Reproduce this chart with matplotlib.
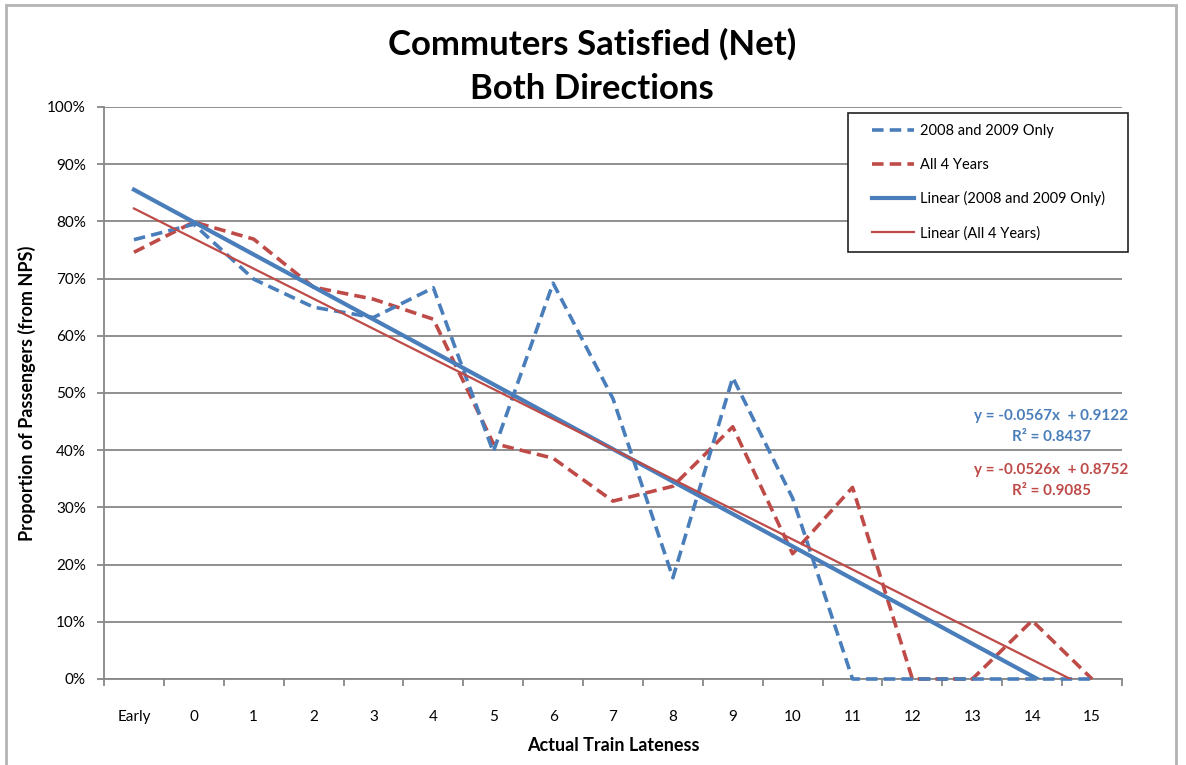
import matplotlib
matplotlib.use("Agg")
import matplotlib.pyplot as plt
from matplotlib.patches import Rectangle
from matplotlib.ticker import FixedLocator, PercentFormatter

plt.rcParams['font.family'] = ['Lato', 'DejaVu Sans']

# Lateness categories (minutes late)
categories = ["Early", "0", "1", "2", "3", "4", "5", "6", "7", "8",
              "9", "10", "11", "12", "13", "14", "15"]

# Net satisfied share of commuters per lateness category
sat_2008_2009 = [0.768, 0.795, 0.699, 0.650, 0.632, 0.684, 0.397, 0.692,
                 0.490, 0.177, 0.527, 0.316, 0.0, 0.0, 0.0, 0.0, 0.0]
sat_all_years = [0.746, 0.799, 0.769, 0.685, 0.664, 0.629, 0.412, 0.386,
                 0.311, 0.337, 0.441, 0.219, 0.335, 0.0, 0.0, 0.102, 0.0]

# Linear trend coefficients (x = 1..17 over the categories)
trend_2008_2009 = (-0.0567, 0.9122, 0.8437)
trend_all_years = (-0.0526, 0.8752, 0.9085)

series_labels = ["2008 and 2009 Only", "All 4 Years",
                 "Linear (2008 and 2009 Only)", "Linear (All 4 Years)"]

BLUE = "#4A7EBB"
RED = "#BE4B48"
GRID = "#878787"

W, H = 1186, 765
fig = plt.figure(figsize=(W / 100, H / 100), dpi=100)

# chart-area border
fig.add_artist(Rectangle((6 / W, -0.05), (1176 - 6) / W, 1 - 5 / H + 0.05,
                         transform=fig.transFigure, fill=False,
                         edgecolor="#B4B4B4", linewidth=2))

ax = fig.add_axes([104 / W, 1 - 679 / H, (1122 - 104) / W, (679 - 107) / H])

x = list(range(len(categories)))
dash = (3.2, 1.7)

l1, = ax.plot(x, sat_2008_2009, color=BLUE, lw=2.6, dashes=dash,
              clip_on=False, zorder=4)
l2, = ax.plot(x, sat_all_years, color=RED, lw=2.6, dashes=dash,
              clip_on=False, zorder=3)

xt = [x[0], x[-1]]
m1, b1, r1 = trend_2008_2009
m2, b2, r2 = trend_all_years
l3, = ax.plot(xt, [m1 * (xi + 1) + b1 for xi in xt], color=BLUE, lw=3.0, zorder=5)
l4, = ax.plot(xt, [m2 * (xi + 1) + b2 for xi in xt], color=RED, lw=1.6, zorder=6)

ax.set_xlim(-0.5, len(categories) - 0.5)
ax.set_ylim(0, 1)

ax.yaxis.set_major_locator(FixedLocator([i / 10 for i in range(11)]))
ax.yaxis.set_major_formatter(PercentFormatter(1.0, decimals=0))
ax.grid(axis="y", color=GRID, lw=1.3)
ax.set_axisbelow(True)

ax.set_xticks(x)
ax.set_xticklabels(categories)
ax.set_xticks([i - 0.5 for i in range(len(categories) + 1)], minor=True)
ax.tick_params(axis="x", which="major", length=0, pad=22, labelsize=11)
ax.tick_params(axis="x", which="minor", length=5, color=GRID, width=1.3)
ax.tick_params(axis="y", length=5, color=GRID, width=1.3, pad=8, labelsize=11)

for s in ("top", "right"):
    ax.spines[s].set_visible(False)
for s in ("left", "bottom"):
    ax.spines[s].set_color(GRID)
    ax.spines[s].set_linewidth(1.3)

ax.set_ylabel("Proportion of Passengers (from NPS)", fontsize=13,
              fontweight="bold", labelpad=8)
ax.set_xlabel("Actual Train Lateness", fontsize=13, fontweight="bold",
              labelpad=10)

fig.text(0.499, 1 - 44 / H, "Commuters Satisfied (Net)", ha="center",
         va="center", fontsize=25, fontweight="bold")
fig.text(0.499, 1 - 89 / H, "Both Directions", ha="center",
         va="center", fontsize=25, fontweight="bold")

# trendline equations
def eq(m, b):
    return f"y = -{abs(m):.4f}x  + {b:.4f}"

fig.text(1051 / W, 1 - 416 / H, eq(m1, b1), ha="center", va="center",
         color=BLUE, fontsize=11, fontweight="bold")
fig.text(1051 / W, 1 - 437 / H, f"R² = {r1:.4f}", ha="center", va="center",
         color=BLUE, fontsize=11, fontweight="bold")
fig.text(1051 / W, 1 - 470 / H, eq(m2, b2), ha="center", va="center",
         color=RED, fontsize=11, fontweight="bold")
fig.text(1051 / W, 1 - 491 / H, f"R² = {r2:.4f}", ha="center", va="center",
         color=RED, fontsize=11, fontweight="bold")

# legend box and entries
fig.add_artist(Rectangle((848 / W, 1 - 252 / H), (1128 - 848) / W,
                         (252 - 113) / H, transform=fig.transFigure,
                         fill=False, edgecolor="#222222", linewidth=1.2,
                         zorder=10))
fig.add_artist(Rectangle((848 / W, 1 - 252 / H), (1128 - 848) / W,
                         (252 - 113) / H, transform=fig.transFigure,
                         facecolor="white", edgecolor="none", zorder=2.5))
leg = fig.legend([l1, l2, l3, l4], series_labels,
                 loc="upper left", bbox_to_anchor=(861 / W, 1 - 113 / H),
                 bbox_transform=fig.transFigure, borderaxespad=0,
                 frameon=False, fontsize=10.5, labelspacing=1.35,
                 handlelength=2.9, handletextpad=0.4, borderpad=0.75)

fig.savefig("out.png", dpi=100, facecolor="white")
